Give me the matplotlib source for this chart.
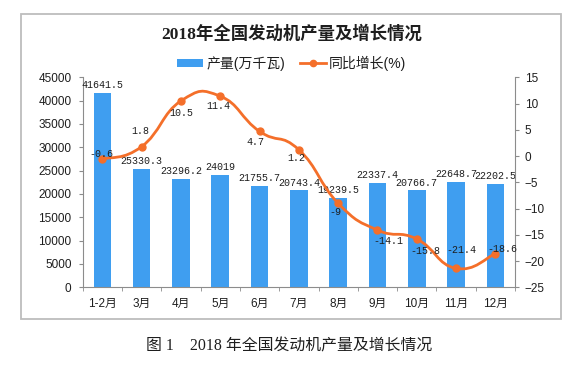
import numpy as np
import matplotlib
matplotlib.use('Agg')
import matplotlib.pyplot as plt
from matplotlib.path import Path
from matplotlib.patches import PathPatch, Rectangle, Patch
from matplotlib.lines import Line2D

# data
months = ['1-2月', '3月', '4月', '5月', '6月', '7月', '8月', '9月', '10月', '11月', '12月']
output = [41641.5, 25330.3, 23296.2, 24019, 21755.7, 20743.4, 19239.5,
          22337.4, 20766.7, 22648.7, 22202.5]
growth = [-0.6, 1.8, 10.5, 11.4, 4.7, 1.2, -9, -14.1, -15.8, -21.4, -18.6]
left_ticks = list(range(0, 45001, 5000))
right_ticks = list(range(-25, 16, 5))

title = '2018年全国发动机产量及增长情况'
caption = '图 1    2018 年全国发动机产量及增长情况'
legend_labels = ['产量(万千瓦)', '同比增长(%)']

# where each growth label sits relative to its point (points)
growth_label_offsets = [(-1, 4), (-1, 11), (0, -9), (-1.5, -7), (-3, -8), (-2, -6),
                        (-2, -6), (8, -8), (6, -9), (3.5, 13.5), (5, 3.5)]

BLUE = '#3F9EF0'
ORANGE = '#F46F2A'
GRAY = '#8C8C8C'
TEXT = '#1E1E1E'

plt.rcParams['font.family'] = ['Liberation Sans', 'Noto Sans CJK SC']

W, H = 580, 368
fig = plt.figure(figsize=(W / 100, H / 100), dpi=100)

# outer frame
fig.patches.append(Rectangle((21 / W, 1 - 319.3 / H), (561 - 21) / W, (319.3 - 14) / H,
                             transform=fig.transFigure, fill=False,
                             edgecolor='#BDBDBD', linewidth=1.3))

ax = fig.add_axes([82.7 / W, 1 - 287.3 / H, (515 - 82.7) / W, (287.3 - 77.3) / H])
x = np.arange(len(months))

ax.bar(x, output, width=0.45, color=BLUE, zorder=2)
ax.set_xlim(-0.5, len(months) - 0.5)
ax.set_ylim(0, 45000)
ax.set_yticks(left_ticks)
ax.set_xticks(x)
ax.set_xticklabels(months)
ax.set_xticks(np.arange(-0.5, len(months), 1), minor=True)
ax.tick_params(axis='x', which='major', length=0, pad=8, labelsize=8.5, labelcolor=TEXT)
ax.tick_params(axis='x', which='minor', length=3, color=GRAY, direction='out')
ax.tick_params(axis='y', length=3, color=GRAY, pad=5, labelsize=8.5, labelcolor=TEXT)
for s in ['top', 'right']:
    ax.spines[s].set_visible(False)
for s in ['left', 'bottom']:
    ax.spines[s].set_color(GRAY)

for xi, v in zip(x, output):
    ax.annotate(f'{v:g}', (xi, v), xytext=(0, 2), textcoords='offset points',
                ha='center', va='bottom', fontsize=7.2, family='Liberation Mono',
                color=TEXT)

ax2 = ax.twinx()
ax2.set_ylim(-25, 15)
ax2.set_yticks(right_ticks)
ax2.tick_params(axis='y', length=3, color=GRAY, pad=4, labelsize=8.5, labelcolor=TEXT)
for s in ['top', 'left', 'bottom']:
    ax2.spines[s].set_visible(False)
ax2.spines['right'].set_color(GRAY)

# smoothed line through the growth points (bezier path like Excel's smooth line)
pts = np.column_stack([x, growth]).astype(float)
k = 0.24
verts = [pts[0]]
codes = [Path.MOVETO]
for i in range(len(pts) - 1):
    p0 = pts[max(i - 1, 0)]
    p1 = pts[i]
    p2 = pts[i + 1]
    p3 = pts[min(i + 2, len(pts) - 1)]
    verts += [p1 + (p2 - p0) * k, p2 - (p3 - p1) * k, p2]
    codes += [Path.CURVE4] * 3
ax2.add_patch(PathPatch(Path(verts, codes), fill=False, edgecolor=ORANGE,
                        linewidth=2, capstyle='round', joinstyle='round'))
ax2.plot(x, growth, 'o', color=ORANGE, ms=5, linestyle='none')

for xi, v, off in zip(x, growth, growth_label_offsets):
    ax2.annotate(f'{v:g}', (xi, v), xytext=off, textcoords='offset points',
                 ha='center', va='center', fontsize=7.2, family='Liberation Mono',
                 color=TEXT)

handles = [Patch(facecolor=BLUE),
           Line2D([], [], color=ORANGE, marker='o', lw=2, ms=4.5)]
fig.legend(handles, legend_labels, loc='center', bbox_to_anchor=(291.7 / W, 1 - 63.3 / H),
           ncol=2, frameon=False, fontsize=10, handlelength=1.9, handleheight=0.5,
           handletextpad=0.2, columnspacing=1.1, labelcolor=TEXT)

fig.text(291.7 / W, 1 - 34.3 / H, title, ha='center', va='center', fontsize=12.5,
         fontweight='bold', family=['Liberation Serif', 'Noto Sans CJK SC'], color=TEXT)
fig.text(289 / W, 1 - 346.7 / H, caption, ha='center', va='center', fontsize=11.4,
         family=['Liberation Serif', 'Noto Sans CJK SC'], color=TEXT)

fig.savefig('out.png', dpi=100)
